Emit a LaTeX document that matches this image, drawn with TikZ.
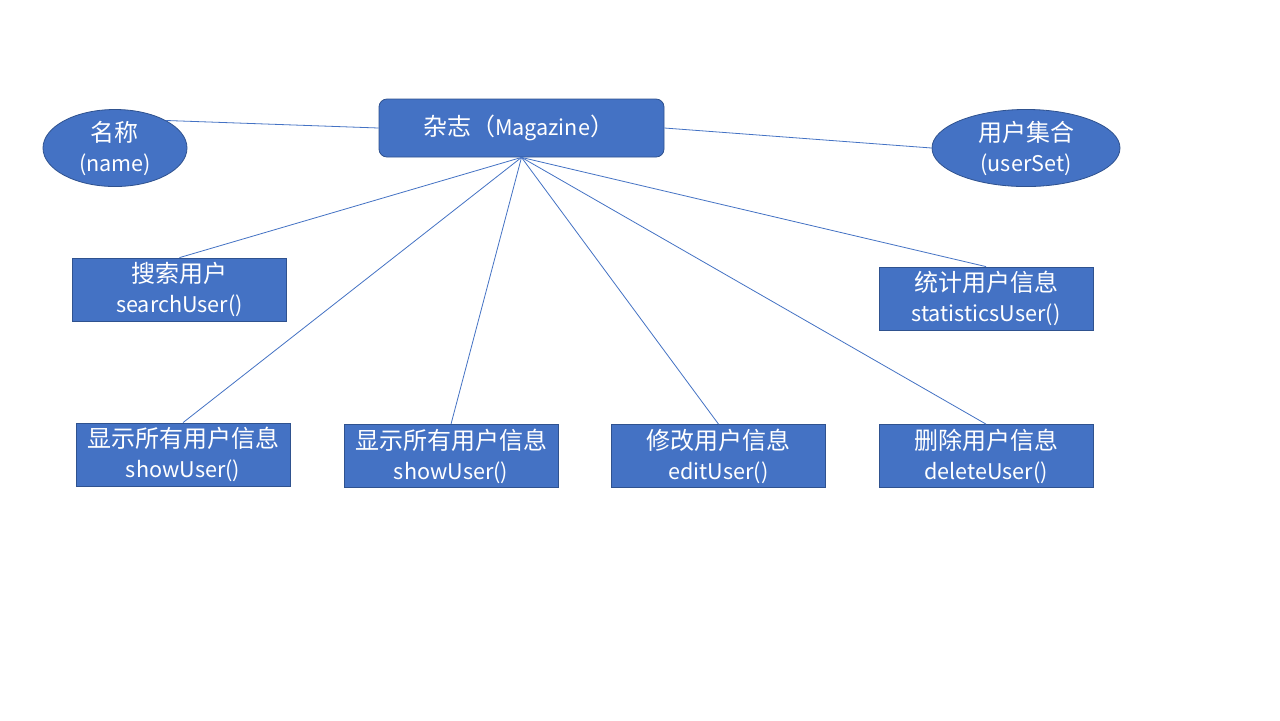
\documentclass[tikz,border=0pt]{standalone}
\usepackage{fontspec}
\newfontfamily\cjk{Noto Sans CJK SC}
\newcommand{\zh}[1]{{\fontsize{12pt}{15pt}\selectfont #1}}
\usetikzlibrary{shapes.geometric}
\definecolor{boxBlue}{HTML}{4472C4}
\definecolor{edgeBlue}{HTML}{2F528F}
\tikzset{
	attrNode/.style={ellipse, draw=edgeBlue, fill=boxBlue, text=white, inner sep=0pt, align=center, font=\cjk\fontsize{10.8pt}{15pt}\selectfont},
	opNode/.style={rectangle, draw=edgeBlue, fill=boxBlue, text=white, inner sep=0pt, minimum width=107pt, minimum height=31.5pt, align=center, font=\cjk\fontsize{10.8pt}{15pt}\selectfont},
	link/.style={draw=boxBlue, line width=0.4pt}
}
\begin{document}
\begin{tikzpicture}[x=0.5pt, y=-0.5pt]
		\useasboundingbox[fill=white] (0,0) rectangle (1280,720);
		\node[rectangle, rounded corners=4pt, draw=edgeBlue, fill=boxBlue, text=white, minimum width=142.5pt, minimum height=29pt, font=\cjk\fontsize{10.8pt}{15pt}\selectfont](magazine) at (521.5,128){\zh{杂志（}Magazine\zh{）}\hspace*{3pt}};
		\node[attrNode, minimum width=72pt, minimum height=36.5pt](nameAttr) at (115,148){\zh{名称}\\(name)};
		\node[attrNode, minimum width=94pt, minimum height=36.5pt](userSetAttr) at (1026,148){\zh{用户集合}\\(userSet)};
		\node[opNode](searchOp) at (179.5,289.5){\zh{搜索用户}\\searchUser()};
		\node[opNode](statOp) at (986,298.5){\zh{统计用户信息}\\statisticsUser()};
		\node[opNode](showOpA) at (183,454.5){\zh{显示所有用户信息}\\showUser()};
		\node[opNode](showOpB) at (451,456){\zh{显示所有用户信息}\\showUser()};
		\node[opNode](editOp) at (718.5,456){\zh{修改用户信息}\\editUser()};
		\node[opNode](deleteOp) at (986,456){\zh{删除用户信息}\\deleteUser()};
		\draw[link] (nameAttr.north east) -- (magazine.west);
		\draw[link] (magazine.east) -- (userSetAttr.west);
		\draw[link] (magazine.south) -- (searchOp.north);
		\draw[link] (magazine.south) -- (showOpA.north);
		\draw[link] (magazine.south) -- (showOpB.north);
		\draw[link] (magazine.south) -- (editOp.north);
		\draw[link] (magazine.south) -- (deleteOp.north);
		\draw[link] (magazine.south) -- (statOp.north);
	\end{tikzpicture}
\end{document}
